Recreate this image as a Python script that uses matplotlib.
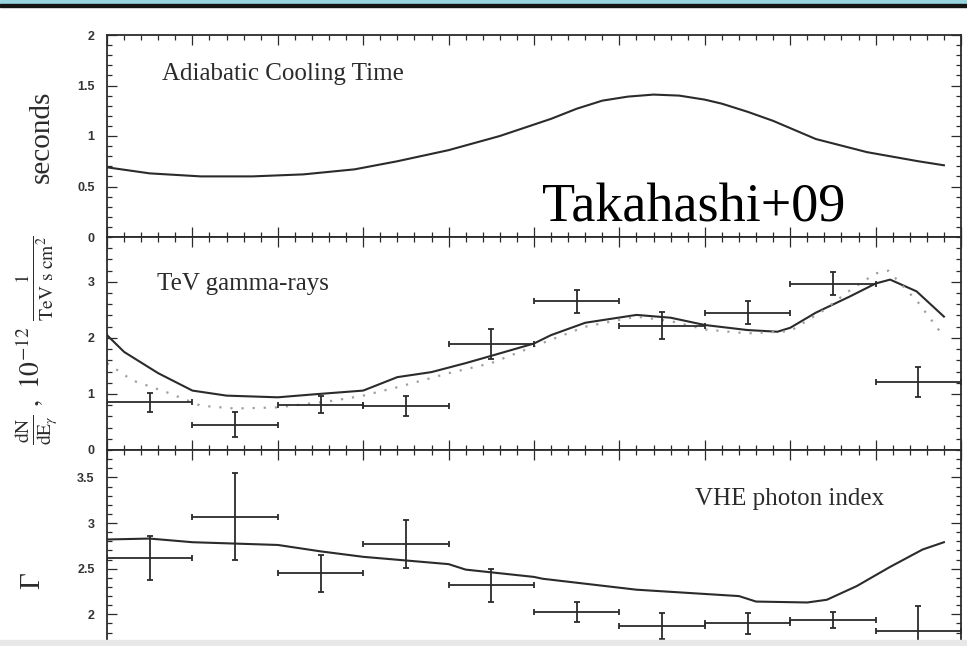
import matplotlib
matplotlib.use('Agg')
import matplotlib.pyplot as plt
from matplotlib.ticker import MultipleLocator, FixedLocator, FormatStrFormatter
from matplotlib.patches import Rectangle

# orbital phase bins (10 bins, 0 -> 1)
bin_center = [0.05, 0.15, 0.25, 0.35, 0.45, 0.55, 0.65, 0.75, 0.85, 0.95]
bin_half = 0.05

# TeV flux points, 1e-12 / (TeV s cm2)
flux = [0.85, 0.45, 0.81, 0.78, 1.89, 2.65, 2.22, 2.45, 2.97, 1.21]
flux_err = [0.17, 0.22, 0.15, 0.18, 0.27, 0.20, 0.24, 0.21, 0.20, 0.27]

# VHE photon index points
gamma = [2.62, 3.07, 2.45, 2.77, 2.32, 2.03, 1.87, 1.90, 1.94, 1.82]
gamma_err = [0.24, 0.48, 0.20, 0.26, 0.18, 0.11, 0.14, 0.11, 0.09, 0.27]

# model: adiabatic cooling time (seconds)
cool_phase = [0.0, 0.05, 0.11, 0.17, 0.23, 0.29, 0.34, 0.40, 0.46, 0.52,
              0.55, 0.58, 0.61, 0.64, 0.67, 0.70, 0.72, 0.75, 0.78, 0.83,
              0.89, 0.95, 0.98]
cool_time = [0.69, 0.63, 0.60, 0.60, 0.62, 0.67, 0.75, 0.86, 1.00, 1.17,
             1.27, 1.35, 1.39, 1.41, 1.40, 1.36, 1.32, 1.24, 1.15, 0.97,
             0.84, 0.75, 0.71]

# model: TeV flux (solid)
fmod_phase = [0.0, 0.02, 0.06, 0.10, 0.14, 0.20, 0.24, 0.30, 0.34, 0.38,
              0.42, 0.45, 0.50, 0.52, 0.56, 0.62, 0.66, 0.70, 0.75, 0.785,
              0.80, 0.83, 0.87, 0.90, 0.917, 0.948, 0.98]
fmod = [2.05, 1.75, 1.37, 1.06, 0.97, 0.94, 0.99, 1.06, 1.30, 1.39,
        1.55, 1.68, 1.90, 2.05, 2.27, 2.41, 2.36, 2.23, 2.14, 2.11,
        2.18, 2.45, 2.74, 2.97, 3.04, 2.83, 2.38]

# model: TeV flux (dotted)
fdot_phase = [0.0, 0.03, 0.07, 0.11, 0.15, 0.20, 0.265, 0.30, 0.34, 0.40,
              0.45, 0.50, 0.56, 0.62, 0.66, 0.70, 0.75, 0.80, 0.84, 0.87,
              0.90, 0.915, 0.95, 0.98]
fdot = [1.55, 1.24, 1.03, 0.79, 0.74, 0.76, 0.88, 0.97, 1.12, 1.37,
        1.55, 1.85, 2.20, 2.38, 2.30, 2.15, 2.08, 2.12, 2.50, 2.85,
        3.15, 3.20, 2.63, 2.02]

# model: photon index
gmod_phase = [0.0, 0.05, 0.10, 0.20, 0.25, 0.30, 0.40, 0.42, 0.50, 0.51,
              0.62, 0.74, 0.76, 0.82, 0.843, 0.878, 0.917, 0.955, 0.98]
gmod = [2.82, 2.83, 2.79, 2.76, 2.69, 2.63, 2.55, 2.49, 2.41, 2.39,
        2.27, 2.20, 2.14, 2.13, 2.16, 2.31, 2.52, 2.71, 2.79]

# labelled y ticks per panel
ticks_top = [0, 0.5, 1, 1.5, 2]
ticks_mid = [0, 1, 2, 3]
ticks_bot = [2, 2.5, 3, 3.5]

W, H = 967, 646
ink = '#2b2b2b'
serif = 'Liberation Serif'
plt.rcParams['mathtext.fontset'] = 'stix'

fig = plt.figure(figsize=(W / 100, H / 100), dpi=100)


def box(top, bottom):
    return [107 / W, 1 - bottom / H, 854 / W, (bottom - top) / H]


ax1 = fig.add_axes(box(35, 237))
ax2 = fig.add_axes(box(237, 450))
ax3 = fig.add_axes(box(450, 660))

for ax in (ax1, ax2, ax3):
    ax.set_xlim(0, 1)
    ax.xaxis.set_major_locator(MultipleLocator(0.1))
    ax.xaxis.set_minor_locator(MultipleLocator(0.02))
    ax.tick_params(which='both', direction='in', top=True, right=True,
                   labelbottom=False, color=ink, width=0.9,
                   labelsize=9, labelcolor='#333333', pad=9)
    ax.tick_params(which='major', length=7)
    ax.tick_params(which='minor', length=3.5)
    ax.yaxis.set_major_formatter(FormatStrFormatter('%g'))
    for s in ax.spines.values():
        s.set_linewidth(1.3)
        s.set_color(ink)

#--------------------------------
ax1.set_ylim(0, 2)
ax1.yaxis.set_major_locator(FixedLocator(ticks_top))
ax1.yaxis.set_minor_locator(MultipleLocator(0.1))
ax1.plot(cool_phase, cool_time, color=ink, lw=1.5)
ax1.text(0.064, 0.777, 'Adiabatic Cooling Time', transform=ax1.transAxes,
         family=serif, fontsize=18, color=ink, va='baseline')

#--------------------------------
ax2.set_ylim(0, 3.8)
ax2.yaxis.set_major_locator(FixedLocator(ticks_mid))
ax2.yaxis.set_minor_locator(MultipleLocator(0.2))
ax2.plot(fmod_phase, fmod, color=ink, lw=1.5)
ax2.plot(fdot_phase, fdot, color='#a0a0a0', lw=1.6, ls=(0, (1, 4)))
ax2.errorbar(bin_center, flux, xerr=bin_half, yerr=flux_err, fmt='none',
             ecolor=ink, elinewidth=1.3, capsize=2.5, capthick=1.3)
ax2.text(0.0585, 0.751, 'TeV gamma-rays', transform=ax2.transAxes,
         family=serif, fontsize=18, color=ink, va='baseline')

#--------------------------------
ax3.set_ylim(1.5, 3.8)
ax3.yaxis.set_major_locator(FixedLocator(ticks_bot))
ax3.yaxis.set_minor_locator(MultipleLocator(0.1))
ax3.plot(gmod_phase, gmod, color=ink, lw=1.5)
ax3.errorbar(bin_center, gamma, xerr=bin_half, yerr=gamma_err, fmt='none',
             ecolor=ink, elinewidth=1.3, capsize=2.5, capthick=1.3)
ax3.text(0.6885, 0.738, 'VHE photon index', transform=ax3.transAxes,
         family=serif, fontsize=18, color=ink, va='baseline')

for ax in (ax1, ax2, ax3):
    for lab in ax.get_yticklabels():
        lab.set_fontweight('bold')
        lab.set_fontfamily('Liberation Sans')

# y labels
fig.text(42 / W, 1 - 137 / H, 'seconds', rotation=90, family=serif,
         fontsize=21, color=ink, ha='center', va='center')
fig.text(37 / W, 1 - 340 / H,
         r'$\frac{\mathrm{dN}}{\mathrm{dE}_{\gamma}}\ ,\ 10^{-12}\ \frac{1}{\mathrm{TeV\ s\ cm}^{2}}$',
         rotation=90, fontsize=20, color=ink, ha='center', va='center')
fig.text(32 / W, 1 - 581 / H, 'Γ', rotation=90, family=serif,
         fontsize=21, color=ink, ha='center', va='center')

fig.text(542 / W, 1 - 222 / H, 'Takahashi+09', family=serif,
         fontsize=39, color='black', va='baseline')

# slide frame bits
fig.add_artist(Rectangle((0, 1 - 4 / H), 1, 4 / H, transform=fig.transFigure,
                         color='#97d6df', zorder=10))
fig.add_artist(Rectangle((0, 1 - 7 / H), 1, 3 / H, transform=fig.transFigure,
                         color='#151515', zorder=10))
fig.add_artist(Rectangle((0, 0), 1, 6 / H, transform=fig.transFigure,
                         color='#e8e8e8', zorder=10))

plt.savefig('out.png', dpi=100)
